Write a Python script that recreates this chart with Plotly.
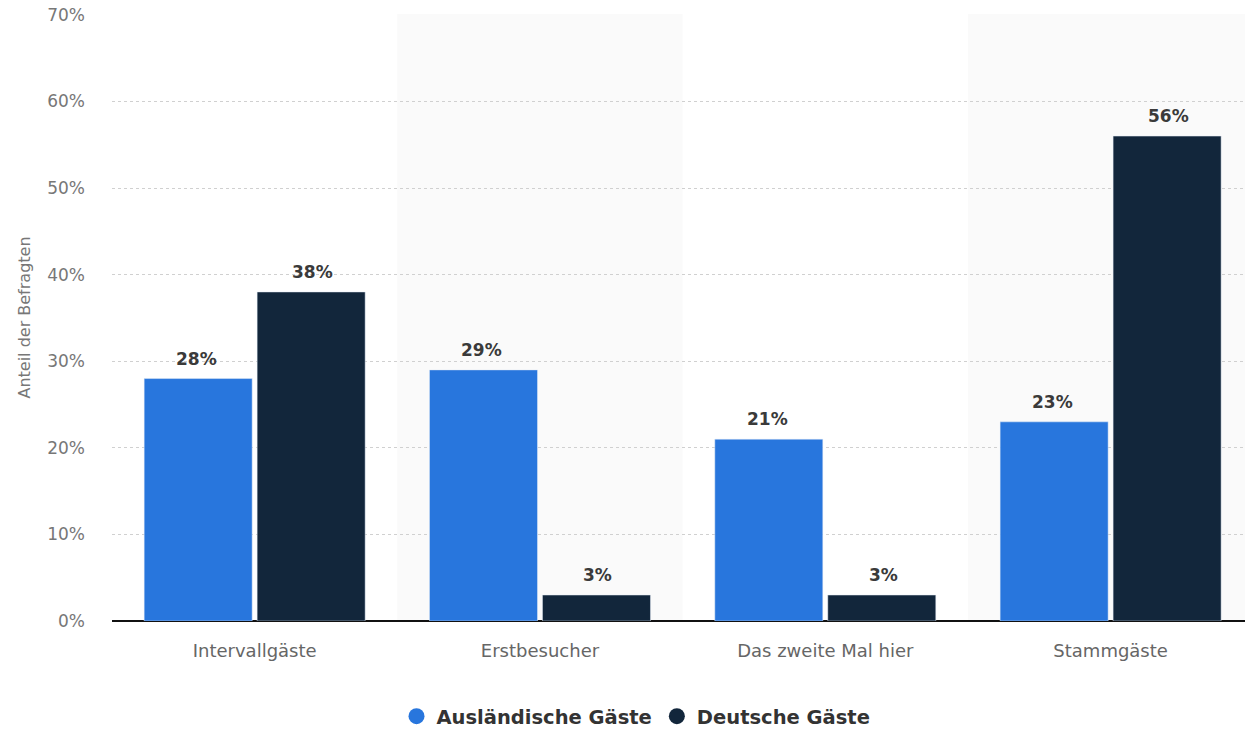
import plotly.graph_objects as go

# data
categories = ["Intervallgäste", "Erstbesucher", "Das zweite Mal hier", "Stammgäste"]
auslaendisch = [28, 29, 21, 23]
deutsch = [38, 3, 3, 56]
series_names = ["Ausländische Gäste", "Deutsche Gäste"]
y_ticks = [0, 10, 20, 30, 40, 50, 60, 70]

blue = "#2876dd"
navy = "#12263b"
font = "DejaVu Sans"

fig = go.Figure()

for vals, name, col, shift in [(auslaendisch, series_names[0], blue, -58),
                               (deutsch, series_names[1], navy, 58)]:
    fig.add_trace(go.Bar(x=categories, y=vals, name=name, marker_color=col, showlegend=False))
    # circle legend markers
    fig.add_trace(go.Scatter(
        x=[None], y=[None], mode="markers", name=name,
        marker=dict(symbol="circle", size=22, color=col),
    ))
    # value labels a bit above the bars
    for cat, v in zip(categories, vals):
        fig.add_annotation(x=cat, y=v, text=f"<b>{v}%</b>", showarrow=False,
                           xshift=shift, yshift=8, yanchor="bottom",
                           font=dict(family=font, size=17, color="#3a3a3a"))

# light shaded bands behind every second category
for i in [1, 3]:
    fig.add_shape(type="rect", xref="x", yref="paper", x0=i - 0.5, x1=i + 0.5,
                  y0=0, y1=1, fillcolor="#fafafa", line_width=0, layer="below")

fig.update_layout(
    width=1245, height=736,
    margin=dict(l=112, r=0, t=14, b=105),
    plot_bgcolor="white", paper_bgcolor="white",
    barmode="group", bargap=0.208, bargroupgap=0.044,
    font=dict(family=font, color="#666666"),
    legend=dict(orientation="h", x=0.4625, xanchor="center", y=-0.158, yanchor="middle",
                font=dict(family=font, size=19.5, color="#333333", weight="bold")),
    xaxis=dict(range=[-0.5, 3.471], showgrid=False, showline=False, ticks="",
               automargin=False, ticklabelstandoff=17,
               tickfont=dict(family=font, size=18, color="#666666")),
    yaxis=dict(range=[0, 70.1], tickvals=y_ticks, ticktext=[f"{t}%" for t in y_ticks],
               showgrid=True, gridcolor="#d0d0d0", griddash="dot", gridwidth=1,
               zeroline=True, zerolinecolor="#111111", zerolinewidth=2,
               automargin=False, ticklabeloverflow="allow",
               tickfont=dict(family=font, size=17, color="#777777"), ticklabelstandoff=26,
               title=dict(text="Anteil der Befragten", font=dict(family=font, size=16, color="#777777"),
                          standoff=12)),
)

# drop the browser's default body margin so the figure sits at the window corner
fig.write_html("out.html", config={"displayModeBar": False},
               post_script="document.body.style.margin='0';")
